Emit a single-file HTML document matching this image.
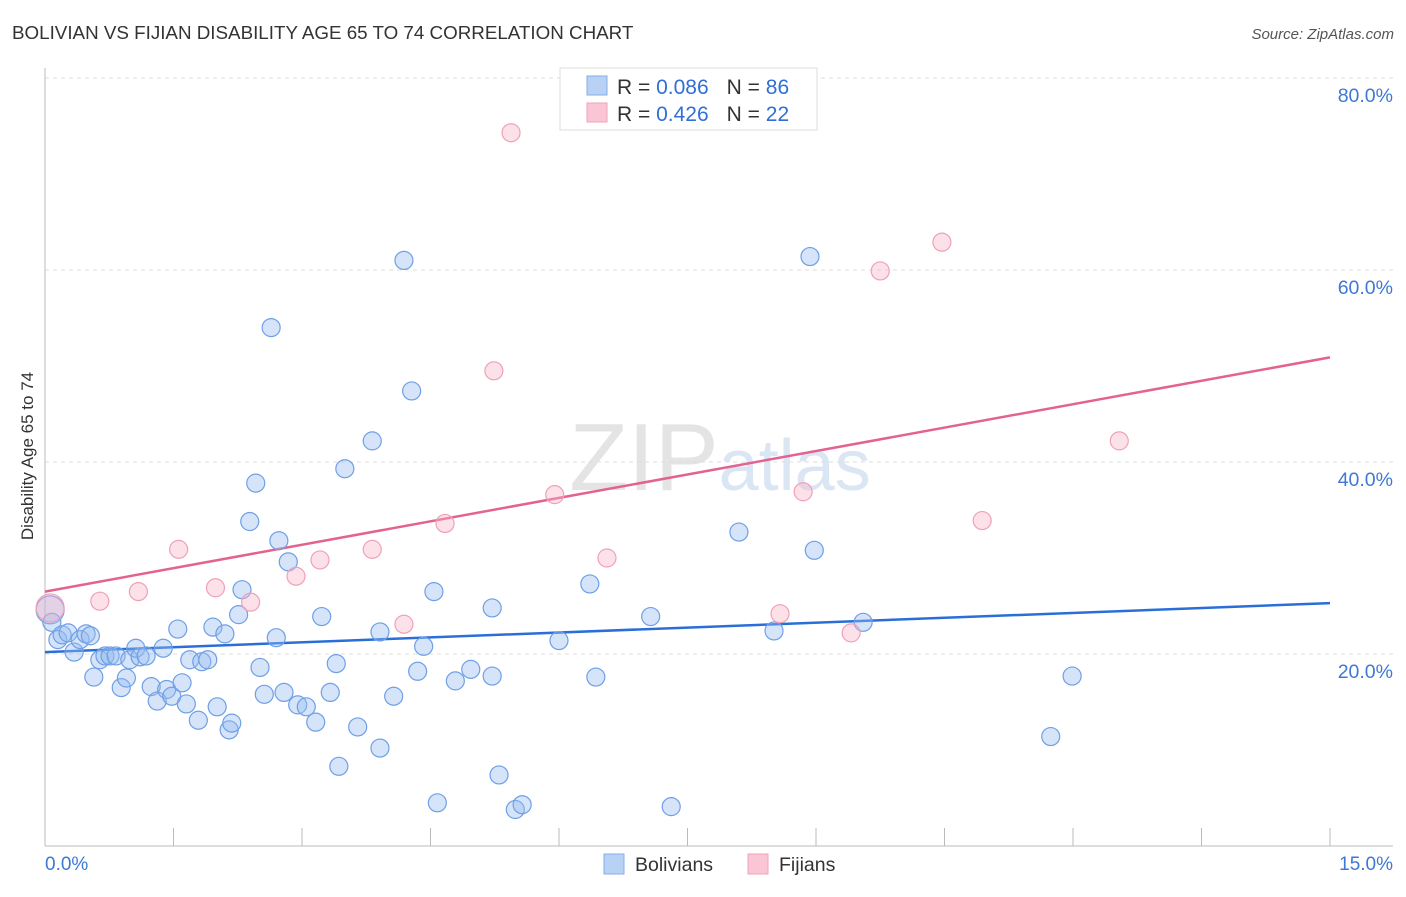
<!DOCTYPE html>
<html><head><meta charset="utf-8"><style>
body{margin:0;background:#fff;font-family:"Liberation Sans",sans-serif;}
svg text{font-family:"Liberation Sans",sans-serif;}
</style></head><body>
<svg id="chart" width="1406" height="892" xmlns="http://www.w3.org/2000/svg">
<text x="12" y="39" font-size="18.8" fill="#333">BOLIVIAN VS FIJIAN DISABILITY AGE 65 TO 74 CORRELATION CHART</text>
<text x="1394" y="39" font-size="15" fill="#555" text-anchor="end" font-style="italic">Source: ZipAtlas.com</text>
<text x="720" y="490" font-size="96" text-anchor="middle" fill="#e4e4e4" font-family="Liberation Serif">ZIP<tspan fill="#dbe6f5" font-family="Liberation Sans" font-size="72">atlas</tspan></text>
<text transform="translate(33,456) rotate(-90)" font-size="17" fill="#333" text-anchor="middle">Disability Age 65 to 74</text>
<g id="grid"></g><g id="axes"></g><g id="trends"></g><g id="points"></g>
<g>
<rect x="560" y="68" width="257" height="62" fill="#fff" stroke="#ddd"/>
<rect x="587" y="76" width="20" height="19" fill="#b8d2f6" stroke="#86aee8"/>
<rect x="587" y="103" width="20" height="19" fill="#fac6d6" stroke="#f2a2bb"/>
<text x="617" y="94" font-size="21" fill="#333">R = <tspan fill="#2f6fd6">0.086</tspan><tspan dx="18">N = </tspan><tspan fill="#2f6fd6">86</tspan></text>
<text x="617" y="121" font-size="21" fill="#333">R = <tspan fill="#2f6fd6">0.426</tspan><tspan dx="18">N = </tspan><tspan fill="#2f6fd6">22</tspan></text>
</g>
<g>
<rect x="604" y="854" width="20" height="20" fill="#b8d2f6" stroke="#86aee8"/>
<text x="635" y="871" font-size="19.5" fill="#333">Bolivians</text>
<rect x="748" y="854" width="20" height="20" fill="#fac6d6" stroke="#f2a2bb"/>
<text x="779" y="871" font-size="19.5" fill="#333">Fijians</text>
</g>
</svg>
<script>
const yTicks=[20,40,60,80];
const yTickLabels=["20.0%","40.0%","60.0%","80.0%"];
const xTickLabels=["0.0%","15.0%"];
const bolX=[0.06,0.08,0.15,0.2,0.27,0.34,0.41,0.48,0.53,0.57,0.64,0.70,0.76,0.83,0.89,0.95,0.99,1.06,1.11,1.18,1.24,1.31,1.38,1.42,1.48,1.55,1.60,1.65,1.69,1.79,1.83,1.90,1.96,2.01,2.10,2.15,2.18,2.26,2.30,2.39,2.46,2.51,2.56,2.64,2.70,2.73,2.79,2.84,2.95,3.05,3.16,3.23,3.33,3.40,3.43,3.50,3.65,3.82,3.91,3.91,4.07,4.19,4.28,4.35,4.42,4.54,4.58,4.79,4.97,5.22,5.22,5.30,5.49,5.57,6.00,6.36,6.43,7.07,7.31,8.10,8.51,8.93,8.98,9.55,11.74,11.99];
const bolY=[24.6,23.3,21.5,22.0,22.2,20.2,21.5,22.1,21.9,17.6,19.4,19.8,19.8,19.8,16.5,17.5,19.4,20.6,19.7,19.8,16.6,15.1,20.6,16.3,15.6,22.6,17.0,14.8,19.4,13.1,19.2,19.4,22.8,14.5,22.1,12.1,12.8,24.1,26.7,33.8,37.8,18.6,15.8,54.0,21.7,31.8,16.0,29.6,14.7,14.5,12.9,23.9,16.0,19.0,8.3,39.3,12.4,42.2,10.2,22.3,15.6,61.0,47.4,18.2,20.8,26.5,4.5,17.2,18.4,17.7,24.8,7.4,3.8,4.3,21.4,27.3,17.6,23.9,4.1,32.7,22.4,61.4,30.8,23.3,11.4,17.7];
const fijX=[0.06,0.64,1.09,1.56,1.99,2.40,2.93,3.21,3.82,4.19,4.67,5.24,5.44,5.95,6.56,8.58,8.85,9.41,9.75,10.47,10.94,12.54];
const fijY=[24.8,25.5,26.5,30.9,26.9,25.4,28.1,29.8,30.9,23.1,33.6,49.5,74.3,36.6,30.0,24.2,36.9,22.2,59.9,62.9,33.9,42.2];
const bolTrend=[20.2,25.3];
const fijTrend=[26.5,50.9];
const NS="http://www.w3.org/2000/svg";
const sx=v=>45+v/15*1285, sy=v=>846-v*9.6;
function mk(tag,attrs,parent){const e=document.createElementNS(NS,tag);for(const k in attrs)e.setAttribute(k,attrs[k]);document.getElementById(parent).appendChild(e);return e;}
yTicks.forEach((t,i)=>{
 const g=mk('line',{x1:45,x2:1393,y1:sy(t),y2:sy(t),stroke:'#ddd','stroke-dasharray':'4,4'},'grid');
 
 
 const l=mk('text',{x:1393,y:sy(t)+24,'font-size':19.5,fill:'#3f78d4','text-anchor':'end'},'grid');
 l.textContent=yTickLabels[i];
 
 
});
const ya=mk('line',{x1:45,x2:45,y1:68,y2:846,stroke:'#bbb'},'axes');


const xa=mk('line',{x1:45,x2:1393,y1:846,y2:846,stroke:'#bbb'},'axes');


for(let k=1;k<=10;k++){
 const t=mk('line',{x1:sx(k*1.5),x2:sx(k*1.5),y1:828,y2:846,stroke:'#bbb'},'axes');
 
 
}
[[45,'start'],[1393,'end']].forEach((p,i)=>{
 const l=mk('text',{x:p[0],y:870,'font-size':19,fill:'#3f78d4','text-anchor':p[1]},'axes');
 l.textContent=xTickLabels[i];
 
 
});
const tb=mk('line',{x1:sx(0),x2:sx(15),y1:sy(bolTrend[0]),y2:sy(bolTrend[1]),stroke:'#2a6fd8','stroke-width':2.5},'trends');


const tf=mk('line',{x1:sx(0),x2:sx(15),y1:sy(fijTrend[0]),y2:sy(fijTrend[1]),stroke:'#e4628f','stroke-width':2.5},'trends');


bolX.forEach((x,i)=>{
 const c=mk('circle',{cx:sx(x),cy:sy(bolY[i]),r:i==0?14:9,fill:'rgba(150,188,240,0.4)',stroke:'#6f9fe6','stroke-width':1.2},'points');
 
 
});
fijX.forEach((x,i)=>{
 const c=mk('circle',{cx:sx(x),cy:sy(fijY[i]),r:i==0?14:9,fill:'rgba(248,180,200,0.4)',stroke:'#f0a0b8','stroke-width':1.2},'points');
 
 
});
</script>
</body></html>
